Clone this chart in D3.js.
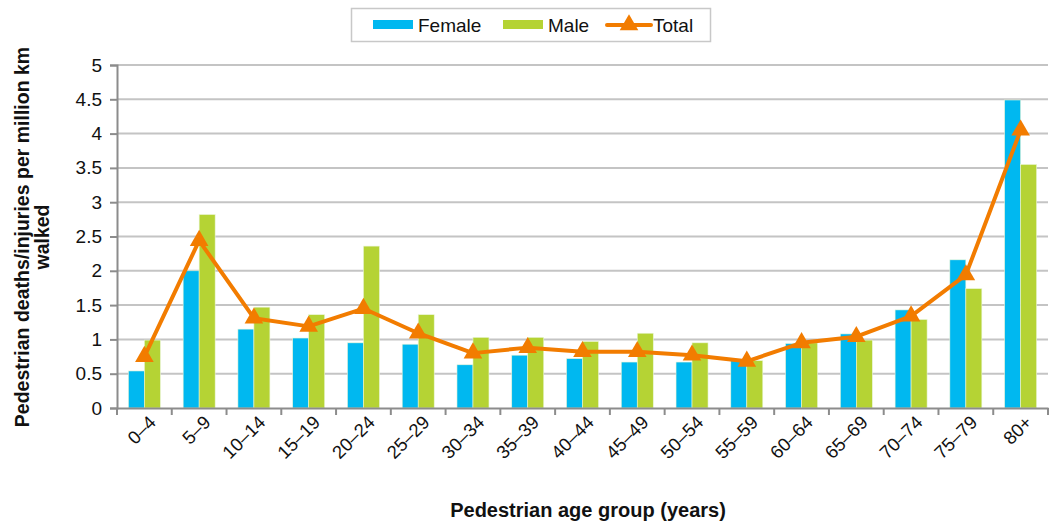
<!DOCTYPE html>
<html>
<head>
<meta charset="utf-8">
<script src="https://cdn.jsdelivr.net/npm/d3@7"></script>
<style>
  body { margin: 0; background: #fff; }
  svg { font-family: "Liberation Sans", Arial, sans-serif; }
</style>
</head>
<body>
<svg width="1056" height="524"></svg>
<script>
const ageGroups = ["0–4", "5–9", "10–14", "15–19", "20–24", "25–29", "30–34", "35–39",
  "40–44", "45–49", "50–54", "55–59", "60–64", "65–69", "70–74", "75–79", "80+"];
const female = [0.54, 2.0, 1.15, 1.02, 0.95, 0.93, 0.63, 0.77, 0.72, 0.67, 0.67, 0.70, 0.94, 1.08, 1.43, 2.16, 4.49];
const male = [0.99, 2.82, 1.47, 1.36, 2.36, 1.36, 1.03, 1.03, 0.97, 1.09, 0.95, 0.69, 0.95, 0.99, 1.29, 1.74, 3.55];
const total = [0.75, 2.44, 1.31, 1.19, 1.45, 1.09, 0.80, 0.88, 0.82, 0.82, 0.77, 0.68, 0.95, 1.04, 1.34, 1.94, 4.05];
const yTicks = [0, 0.5, 1, 1.5, 2, 2.5, 3, 3.5, 4, 4.5, 5];

const colors = { Female: "#00b8f0", Male: "#b5d334", Total: "#f27c00" };
const margin = { top: 65, right: 8, bottom: 116, left: 117 };
const width = 1056, height = 524;

const svg = d3.select("svg");

const x = d3.scaleBand()
  .domain(ageGroups)
  .range([margin.left, width - margin.right]);
const xInner = d3.scaleBand()
  .domain(["Female", "Male"])
  .range([0, 32])
  .paddingInner(0);
const y = d3.scaleLinear()
  .domain([0, 5])
  .range([height - margin.bottom, margin.top]);

// gridlines
svg.append("g")
  .selectAll("line")
  .data(yTicks.filter(d => d > 0))
  .join("line")
  .attr("x1", margin.left)
  .attr("x2", width - margin.right)
  .attr("y1", d => y(d))
  .attr("y2", d => y(d))
  .attr("stroke", "#c4c4c4")
  .attr("stroke-width", 2);

// bars
const rows = ageGroups.map((g, i) => ({ group: g, Female: female[i], Male: male[i], Total: total[i] }));
const groups = svg.append("g")
  .selectAll("g")
  .data(rows)
  .join("g")
  .attr("transform", d => `translate(${x(d.group) + x.bandwidth() / 2 - 16},0)`);

groups.selectAll("rect")
  .data(d => ["Female", "Male"].map(k => ({ key: k, value: d[k] })))
  .join("rect")
  .attr("x", d => xInner(d.key))
  .attr("width", xInner.bandwidth())
  .attr("y", d => y(d.value))
  .attr("height", d => y(0) - y(d.value))
  .attr("fill", d => colors[d.key])
  .attr("stroke", "#eaf6d8")
  .attr("stroke-width", 0.6);

// axes
const yAxis = d3.axisLeft(y).tickValues(yTicks).tickSize(7).tickPadding(8)
  .tickFormat(d => d3.format("")(d));
const yG = svg.append("g")
  .attr("transform", `translate(${margin.left},0)`)
  .call(yAxis);
yG.select(".domain").attr("stroke", "#8c8c8c").attr("stroke-width", 2);
yG.selectAll(".tick line").attr("stroke", "#8c8c8c").attr("stroke-width", 2);
yG.selectAll("text").attr("font-size", 19).attr("fill", "#111").attr("font-family", "Liberation Sans, Arial, sans-serif");

const xAxis = d3.axisBottom(x).tickSize(0).tickFormat("");
const xG = svg.append("g")
  .attr("transform", `translate(0,${y(0)})`)
  .call(xAxis);
xG.select(".domain").attr("stroke", "#8c8c8c").attr("stroke-width", 2);

// tick marks between categories
svg.append("g")
  .selectAll("line")
  .data(ageGroups.concat(["end"]))
  .join("line")
  .attr("x1", (d, i) => margin.left + i * x.step())
  .attr("x2", (d, i) => margin.left + i * x.step())
  .attr("y1", y(0))
  .attr("y2", y(0) + 7)
  .attr("stroke", "#8c8c8c")
  .attr("stroke-width", 2);

// x labels rotated
svg.append("g")
  .selectAll("text")
  .data(ageGroups)
  .join("text")
  .attr("transform", d => `translate(${x(d) + x.bandwidth() / 2 + 8},${y(0) + 11}) rotate(-45)`)
  .attr("text-anchor", "end")
  .attr("dy", "0.35em")
  .attr("font-size", 18.5)
  .attr("fill", "#111")
  .text(d => d);

// total line
const line = d3.line()
  .x(d => x(d.group) + x.bandwidth() / 2)
  .y(d => y(d.Total));
svg.append("path")
  .datum(rows)
  .attr("d", line)
  .attr("fill", "none")
  .attr("stroke", colors.Total)
  .attr("stroke-width", 4)
  .attr("stroke-linejoin", "round");

const tri = d3.symbol().type(d3.symbolTriangle).size(150);
svg.append("g")
  .selectAll("path")
  .data(rows)
  .join("path")
  .attr("transform", d => `translate(${x(d.group) + x.bandwidth() / 2},${y(d.Total)})`)
  .attr("d", tri)
  .attr("fill", colors.Total);

// axis titles
svg.append("text")
  .attr("x", 588)
  .attr("y", 517)
  .attr("text-anchor", "middle")
  .attr("font-size", 20)
  .attr("font-weight", "bold")
  .attr("fill", "#111")
  .text("Pedestrian age group (years)");

const yTitle = svg.append("text")
  .attr("transform", `translate(0,237) rotate(-90)`)
  .attr("text-anchor", "middle")
  .attr("font-size", 19.5)
  .attr("font-weight", "bold")
  .attr("fill", "#111");
yTitle.append("tspan").attr("x", 0).attr("y", 29).text("Pedestrian deaths/injuries per million km");
yTitle.append("tspan").attr("x", 0).attr("y", 49).text("walked");

// legend
const legend = svg.append("g");
legend.append("rect")
  .attr("x", 351.5).attr("y", 8.5).attr("width", 359).attr("height", 33)
  .attr("fill", "#fff").attr("stroke", "#c8c8c8").attr("stroke-width", 1.5);
const legendItems = [
  { key: "Female", x: 373 },
  { key: "Male", x: 503 },
  { key: "Total", x: 607 }
];
legendItems.forEach(it => {
  if (it.key === "Total") {
    legend.append("line")
      .attr("x1", it.x).attr("x2", it.x + 44)
      .attr("y1", 25).attr("y2", 25)
      .attr("stroke", colors.Total).attr("stroke-width", 4)
      .attr("stroke-linecap", "round");
    legend.append("path")
      .attr("transform", `translate(${it.x + 22},25)`)
      .attr("d", tri)
      .attr("fill", colors.Total);
  } else {
    legend.append("rect")
      .attr("x", it.x).attr("y", 20).attr("width", 40).attr("height", 9)
      .attr("fill", colors[it.key]);
  }
  legend.append("text")
    .attr("x", it.x + (it.key === "Total" ? 46 : 45))
    .attr("y", 32)
    .attr("font-size", 19)
    .attr("fill", "#111")
    .text(it.key);
});
</script>
</body>
</html>
